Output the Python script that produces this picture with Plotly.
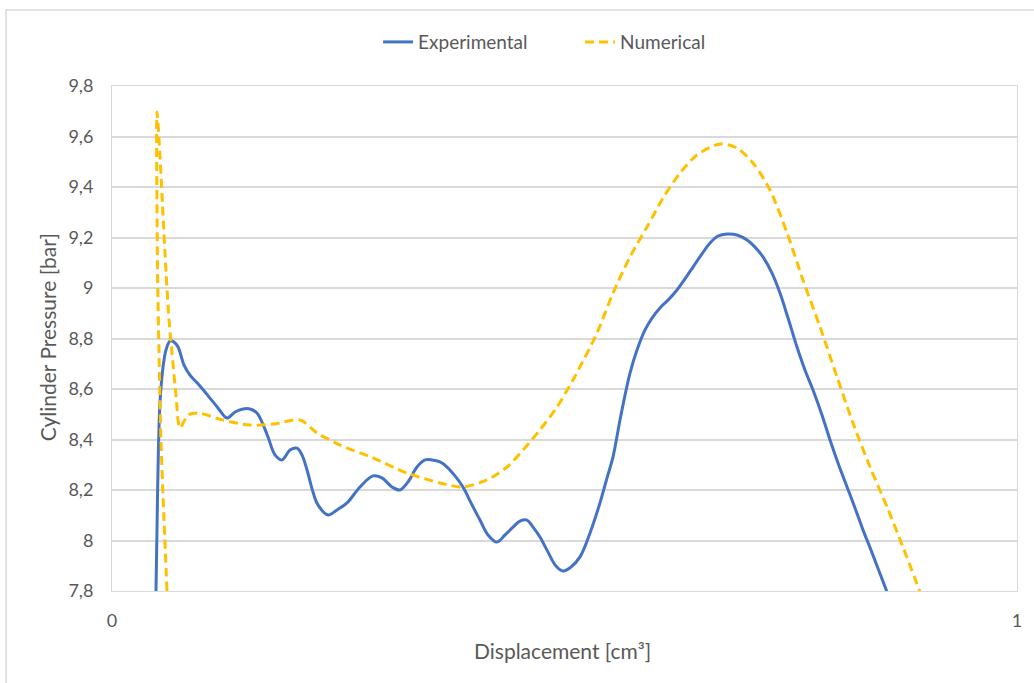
import plotly.graph_objects as go

# Experimental series (displacement, pressure)
exp_x = [0.0486, 0.0497, 0.0512, 0.0530, 0.0564, 0.0597, 0.0641, 0.0685, 0.0730, 0.0796,
         0.0862, 0.0972, 0.1083, 0.1171, 0.1271, 0.1359, 0.1448, 0.1525, 0.1602, 0.1657,
         0.1724, 0.1801, 0.1878, 0.1967, 0.2044, 0.2099, 0.2155, 0.2221, 0.2276, 0.2387,
         0.2486, 0.2597, 0.2740, 0.2884, 0.2983, 0.3094, 0.3182, 0.3271, 0.3370, 0.3459,
         0.3536, 0.3624, 0.3702, 0.3790, 0.3878, 0.3978, 0.4066, 0.4155, 0.4254, 0.4343,
         0.4431, 0.4508, 0.4586, 0.4652, 0.4729, 0.4818, 0.4906, 0.4983, 0.5072, 0.5171,
         0.5282, 0.5392, 0.5470, 0.5536, 0.5613, 0.5669, 0.5724, 0.5801, 0.5890, 0.5967,
         0.6055, 0.6144, 0.6243, 0.6331, 0.6420, 0.6519, 0.6608, 0.6696, 0.6796, 0.6906,
         0.7017, 0.7105, 0.7193, 0.7293, 0.7381, 0.7470, 0.7569, 0.7657, 0.7746, 0.7845,
         0.7934, 0.8022, 0.8122, 0.8210, 0.8298, 0.8387, 0.8475, 0.8564]
exp_y = [7.797, 8.042, 8.347, 8.545, 8.687, 8.755, 8.790, 8.786, 8.766, 8.695,
         8.655, 8.612, 8.564, 8.525, 8.485, 8.509, 8.521, 8.521, 8.505, 8.469,
         8.410, 8.339, 8.319, 8.358, 8.366, 8.339, 8.279, 8.192, 8.141, 8.101,
         8.121, 8.149, 8.212, 8.256, 8.248, 8.212, 8.200, 8.232, 8.291, 8.319,
         8.319, 8.311, 8.291, 8.256, 8.212, 8.141, 8.081, 8.022, 7.994, 8.022,
         8.053, 8.077, 8.081, 8.053, 8.014, 7.954, 7.899, 7.879, 7.895, 7.935,
         8.030, 8.149, 8.248, 8.331, 8.477, 8.576, 8.663, 8.754, 8.834, 8.881,
         8.921, 8.952, 8.992, 9.036, 9.083, 9.135, 9.178, 9.206, 9.214, 9.210,
         9.190, 9.162, 9.123, 9.059, 8.980, 8.881, 8.766, 8.675, 8.596, 8.497,
         8.398, 8.307, 8.212, 8.129, 8.042, 7.962, 7.879, 7.796]

# Numerical series (displacement, pressure)
num_x = [0.0608, 0.0575, 0.0541, 0.0519, 0.0503, 0.0497, 0.0519, 0.0558, 0.0597, 0.0630,
         0.0663, 0.0707, 0.0751, 0.0840, 0.0950, 0.1227, 0.1525, 0.1780, 0.2077, 0.2265,
         0.2520, 0.2884, 0.3260, 0.3624, 0.3880, 0.4144, 0.4365, 0.4541, 0.4729, 0.4917,
         0.5094, 0.5359, 0.5536, 0.5724, 0.5912, 0.6088, 0.6276, 0.6464, 0.6718, 0.6906,
         0.7083, 0.7271, 0.7459, 0.7635, 0.7823, 0.8011, 0.8188, 0.8376, 0.8564, 0.8740,
         0.8928]
num_y = [7.800, 8.081, 8.398, 8.754, 9.071, 9.697, 9.594, 9.329, 9.063, 8.873,
         8.743, 8.576, 8.446, 8.497, 8.505, 8.477, 8.457, 8.461, 8.477, 8.426,
         8.378, 8.327, 8.267, 8.228, 8.212, 8.240, 8.291, 8.358, 8.438, 8.529,
         8.636, 8.822, 8.980, 9.123, 9.242, 9.356, 9.455, 9.527, 9.570, 9.554,
         9.495, 9.388, 9.218, 9.032, 8.846, 8.648, 8.465, 8.291, 8.133, 7.974,
         7.796]

y_tick_vals = [7.8, 8.0, 8.2, 8.4, 8.6, 8.8, 9.0, 9.2, 9.4, 9.6, 9.8]
y_tick_labels = ["7,8", "8", "8,2", "8,4", "8,6", "8,8", "9", "9,2", "9,4", "9,6", "9,8"]
x_tick_vals = [0, 1]
x_tick_labels = ["0", "1"]

FONT = "Lato"
TXT = "#595959"
GRID = "#d9d9d9"

fig = go.Figure()
fig.add_trace(go.Scatter(x=exp_x, y=exp_y, mode="lines", name="Experimental",
                         line=dict(color="#4472C4", width=3, shape="spline", smoothing=1.0)))
fig.add_trace(go.Scatter(x=num_x, y=num_y, mode="lines", name="Numerical",
                         line=dict(color="#FFC000", width=3, dash="9px,5px",
                                   shape="spline", smoothing=0.8)))

fig.update_layout(
    width=1034, height=683,
    margin=dict(l=112, r=17, t=86, b=92),
    paper_bgcolor="white", plot_bgcolor="white",
    font=dict(family=FONT, size=17, color=TXT),
    showlegend=True,
    legend=dict(orientation="h", x=0.294, xanchor="left", y=1.087, yanchor="middle",
                font=dict(family=FONT, size=19, color=TXT), itemwidth=30,
                entrywidth=157, entrywidthmode="pixels"),
    xaxis=dict(range=[0, 1], tickvals=x_tick_vals, ticktext=x_tick_labels,
               showgrid=False, zeroline=False, showline=True, mirror=True,
               linecolor=GRID, linewidth=1, ticks="", ticklabelstandoff=13,
               tickfont=dict(family=FONT, size=18, color=TXT)),
    yaxis=dict(range=[7.8, 9.8], tickvals=y_tick_vals, ticktext=y_tick_labels,
               showgrid=True, gridcolor=GRID, gridwidth=1.5, zeroline=False,
               showline=True, mirror=True, linecolor=GRID, linewidth=1, ticks="",
               ticklabelstandoff=14, tickfont=dict(family=FONT, size=18, color=TXT)),
    annotations=[
        dict(text="Displacement [cm³]", xref="paper", yref="paper",
             x=0.498, y=-0.117, xanchor="center", yanchor="middle", showarrow=False,
             font=dict(family=FONT, size=21, color=TXT)),
        dict(text="Cylinder Pressure [bar]", xref="paper", yref="paper",
             x=-0.071, y=0.502, xanchor="center", yanchor="middle", showarrow=False,
             textangle=-90, font=dict(family=FONT, size=21, color=TXT)),
    ],
    shapes=[
        dict(type="rect", xref="paper", yref="paper", x0=-0.1171, y0=-0.25,
             x1=1.04, y1=1.1505, line=dict(color=GRID, width=1.5), layer="below"),
    ],
)

fig.write_html("out.html")
